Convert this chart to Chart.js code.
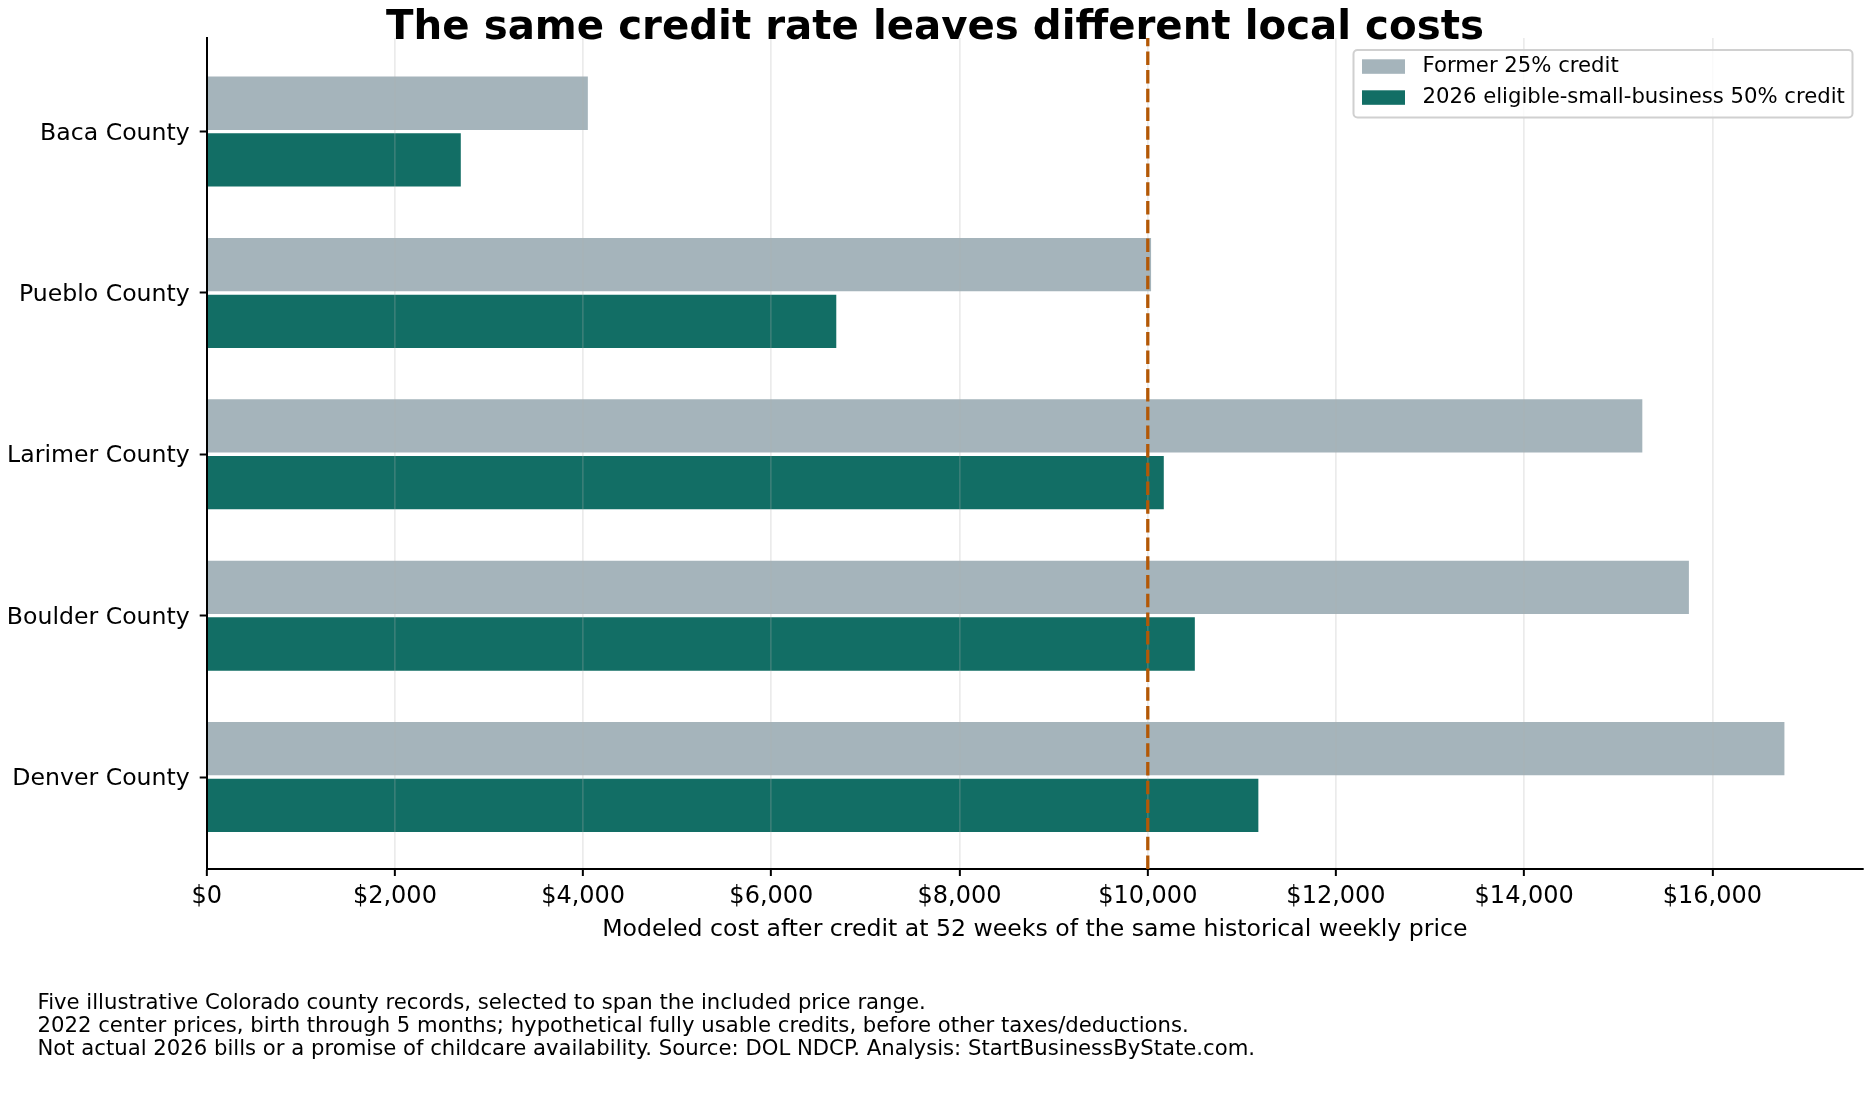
<!DOCTYPE html>
<html>
<head>
<meta charset="utf-8">
<script src="https://cdn.jsdelivr.net/npm/chart.js@4.4.1/dist/chart.umd.min.js"></script>
<style>
html, body { margin: 0; padding: 0; background: #fff; }
canvas { display: block; }
</style>
</head>
<body>
<canvas id="chart" width="1870" height="1105"></canvas>
<script>
var counties = ['Baca County', 'Pueblo County', 'Larimer County', 'Boulder County', 'Denver County'];
var former25 = [4050, 10035, 15255, 15750, 16765];
var new50 = [2700, 6690, 10170, 10500, 11175];
var seriesNames = ['Former 25% credit', '2026 eligible-small-business 50% credit'];
var xTicks = [0, 2000, 4000, 6000, 8000, 10000, 12000, 14000, 16000];
var referenceLine = 10000;

var titleText = 'The same credit rate leaves different local costs';
var xTitle = 'Modeled cost after credit at 52 weeks of the same historical weekly price';
var footnotes = [
    'Five illustrative Colorado county records, selected to span the included price range.',
    '2022 center prices, birth through 5 months; hypothetical fully usable credits, before other taxes/deductions.',
    'Not actual 2026 bills or a promise of childcare availability. Source: DOL NDCP. Analysis: StartBusinessByState.com.'
];

var FONT = '"DejaVu Sans", "Liberation Sans", sans-serif';

function toPoints(values) {
    return values.map(function (v, i) { return { x: v, y: i }; });
}

// title, reference line, boxed legend and notes drawn over the chart
var extras = {
    id: 'extras',
    afterDraw: function (chart) {
        var ctx = chart.ctx;
        var area = chart.chartArea;
        var px = chart.scales.x.getPixelForValue(referenceLine);

        ctx.save();
        ctx.strokeStyle = '#b35806';
        ctx.lineWidth = 3.3;
        ctx.setLineDash([13.5, 5.2]);
        ctx.beginPath();
        ctx.moveTo(px, area.bottom);
        ctx.lineTo(px, area.top);
        ctx.stroke();
        ctx.setLineDash([]);

        ctx.fillStyle = '#000';
        ctx.font = 'bold 40.3px ' + FONT;
        ctx.textAlign = 'center';
        ctx.textBaseline = 'alphabetic';
        ctx.fillText(titleText, 935, 39);

        // legend
        var lx = 1353.5, ly = 50, lw = 499, lh = 67.5;
        ctx.beginPath();
        ctx.roundRect(lx, ly, lw, lh, 4);
        ctx.fillStyle = 'rgba(255,255,255,0.8)';
        ctx.fill();
        ctx.strokeStyle = '#d0d0d0';
        ctx.lineWidth = 2;
        ctx.stroke();
        ctx.font = '21.2px ' + FONT;
        ctx.textAlign = 'left';
        ctx.textBaseline = 'middle';
        chart.data.datasets.forEach(function (ds, i) {
            var cy = 66.5 + i * 31;
            ctx.fillStyle = ds.backgroundColor;
            ctx.fillRect(1362, cy - 7.2, 43, 14.5);
            ctx.fillStyle = '#000';
            ctx.fillText(ds.label, 1422.5, cy);
        });

        ctx.font = '21.2px ' + FONT;
        footnotes.forEach(function (t, i) {
            ctx.fillText(t, 37.5, 1003.5 + i * 23);
        });
        ctx.restore();
    }
};

var ctx = document.getElementById('chart').getContext('2d');
var chart = new Chart(ctx, {
    type: 'bar',
    data: {
        datasets: [{
            label: seriesNames[0],
            data: toPoints(former25),
            backgroundColor: '#a5b4bb'
        }, {
            label: seriesNames[1],
            data: toPoints(new50),
            backgroundColor: '#126e65'
        }]
    },
    options: {
        indexAxis: 'y',
        responsive: false,
        animation: false,
        devicePixelRatio: 1,
        categoryPercentage: 0.703,
        barPercentage: 0.94,
        layout: { padding: { top: 38, right: 7, bottom: 156, left: 0 } },
        plugins: {
            legend: { display: false },
            tooltip: { enabled: false }
        },
        scales: {
            x: {
                type: 'linear',
                min: 0,
                max: 17600,
                afterBuildTicks: function (scale) {
                    scale.ticks = xTicks.map(function (v) { return { value: v }; });
                },
                afterFit: function (scale) { scale.height = 80; },
                ticks: {
                    color: '#000',
                    font: { family: FONT, size: 24 },
                    padding: 6,
                    callback: function (v) { return '$' + v.toLocaleString('en-US'); }
                },
                grid: {
                    z: 1,
                    color: 'rgba(176,176,176,0.25)',
                    lineWidth: 1.7,
                    tickColor: '#000',
                    tickLength: 7,
                    tickWidth: 2
                },
                border: { z: 1, color: '#000', width: 2 },
                title: {
                    display: true,
                    text: xTitle,
                    color: '#000',
                    font: { family: FONT, size: 23.6 },
                    padding: { top: 0, bottom: 5 }
                }
            },
            y: {
                type: 'linear',
                reverse: true,
                offset: false,
                min: -0.58,
                max: 4.57,
                afterBuildTicks: function (scale) {
                    scale.ticks = counties.map(function (c, i) { return { value: i }; });
                },
                afterFit: function (scale) { scale.width = 206.7; },
                ticks: {
                    color: '#000',
                    font: { family: FONT, size: 23.6 },
                    padding: 10,
                    labelOffset: 2,
                    callback: function (v) { return counties[v]; }
                },
                grid: {
                    offset: false,
                    drawOnChartArea: false,
                    tickColor: '#000',
                    tickLength: 7,
                    tickWidth: 2
                },
                border: { z: 1, color: '#000', width: 2 }
            }
        }
    },
    plugins: [extras]
});
</script>
</body>
</html>
